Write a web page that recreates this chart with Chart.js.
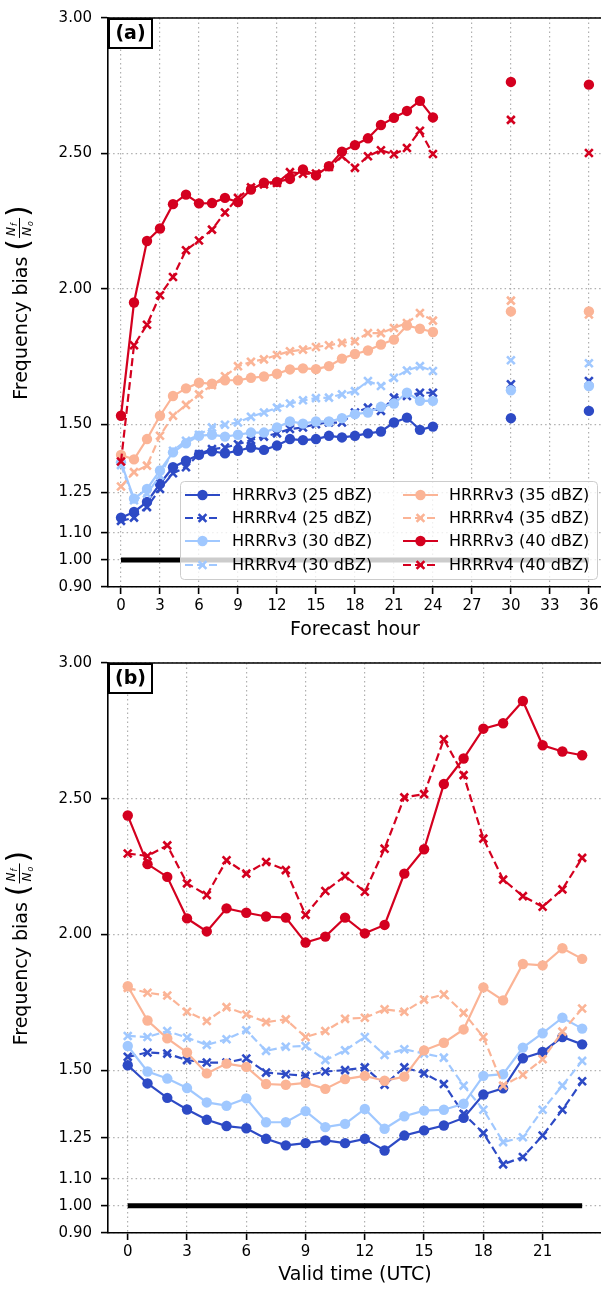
<!DOCTYPE html>
<html>
<head>
<meta charset="utf-8">
<script src="https://cdn.jsdelivr.net/npm/chart.js@4.4.1/dist/chart.umd.min.js"></script>
<style>
    html, body { margin: 0; padding: 0; overflow: hidden; background: #fff; }
    #wrap { position: relative; width: 601px; height: 1298px; overflow: hidden; }
    canvas { position: absolute; left: 0; }
    #chartA { top: 0; }
    #chartB { top: 645px; }
</style>
</head>
<body>
<div id="wrap">
    <canvas id="chartA" width="610" height="645"></canvas>
    <canvas id="chartB" width="610" height="653"></canvas>
</div>
<script>
const FONT = "'DejaVu Sans', sans-serif";

// shared y ticks (frequency bias)
const yTicks = [0.90, 1.00, 1.10, 1.25, 1.50, 2.00, 2.50, 3.00];
const refLevel = 1.0;

// (a) forecast hour
const forecastTicks = [0, 3, 6, 9, 12, 15, 18, 21, 24, 27, 30, 33, 36];
const forecastHours = [0, 1, 2, 3, 4, 5, 6, 7, 8, 9, 10, 11, 12, 13, 14, 15, 16, 17, 18, 19, 20, 21, 22, 23, 24, 30, 36];
const fcV3_25 = [1.156, 1.177, 1.214, 1.281, 1.342, 1.366, 1.388, 1.401, 1.393, 1.403, 1.415, 1.406, 1.422, 1.446, 1.442, 1.446, 1.458, 1.452, 1.458, 1.467, 1.474, 1.507, 1.525, 1.480, 1.492, 1.523, 1.550];
const fcV4_25 = [1.144, 1.156, 1.195, 1.262, 1.320, 1.342, 1.391, 1.409, 1.415, 1.427, 1.442, 1.455, 1.467, 1.483, 1.489, 1.501, 1.507, 1.507, 1.544, 1.562, 1.550, 1.599, 1.605, 1.617, 1.617, 1.648, 1.660];
const fcV3_30 = [1.360, 1.226, 1.262, 1.330, 1.397, 1.430, 1.458, 1.462, 1.455, 1.462, 1.470, 1.470, 1.489, 1.511, 1.503, 1.511, 1.511, 1.523, 1.538, 1.544, 1.565, 1.577, 1.617, 1.587, 1.587, 1.626, 1.642];
const fcV4_30 = [1.350, 1.220, 1.244, 1.311, 1.403, 1.440, 1.462, 1.489, 1.499, 1.507, 1.528, 1.544, 1.562, 1.577, 1.589, 1.597, 1.599, 1.611, 1.623, 1.660, 1.642, 1.672, 1.699, 1.715, 1.697, 1.737, 1.726];
const fcV3_35 = [1.387, 1.371, 1.446, 1.532, 1.605, 1.633, 1.654, 1.650, 1.663, 1.663, 1.672, 1.677, 1.687, 1.703, 1.707, 1.704, 1.715, 1.743, 1.760, 1.773, 1.795, 1.813, 1.865, 1.853, 1.841, 1.917, 1.917];
const fcV4_35 = [1.271, 1.324, 1.348, 1.458, 1.532, 1.572, 1.611, 1.645, 1.678, 1.715, 1.731, 1.740, 1.756, 1.770, 1.776, 1.786, 1.792, 1.801, 1.807, 1.837, 1.837, 1.856, 1.874, 1.911, 1.883, 1.957, 1.906];
const fcV3_40 = [1.532, 1.950, 2.177, 2.223, 2.313, 2.348, 2.316, 2.317, 2.336, 2.321, 2.367, 2.392, 2.395, 2.406, 2.441, 2.419, 2.453, 2.507, 2.531, 2.556, 2.605, 2.632, 2.657, 2.694, 2.633, 2.764, 2.754];
const fcV4_40 = [1.363, 1.792, 1.868, 1.977, 2.044, 2.143, 2.179, 2.219, 2.282, 2.336, 2.375, 2.386, 2.391, 2.431, 2.425, 2.426, 2.450, 2.490, 2.447, 2.490, 2.512, 2.497, 2.520, 2.584, 2.498, 2.624, 2.502];

// (b) valid time
const validTicks = [0, 3, 6, 9, 12, 15, 18, 21];
const validHours = [0, 1, 2, 3, 4, 5, 6, 7, 8, 9, 10, 11, 12, 13, 14, 15, 16, 17, 18, 19, 20, 21, 22, 23];
const vtV3_25 = [1.518, 1.451, 1.398, 1.355, 1.317, 1.294, 1.286, 1.247, 1.223, 1.231, 1.241, 1.231, 1.247, 1.204, 1.259, 1.278, 1.296, 1.324, 1.410, 1.433, 1.544, 1.567, 1.622, 1.595];
const vtV4_25 = [1.549, 1.565, 1.561, 1.537, 1.528, 1.528, 1.543, 1.491, 1.485, 1.479, 1.495, 1.500, 1.510, 1.446, 1.510, 1.488, 1.449, 1.339, 1.268, 1.153, 1.180, 1.259, 1.354, 1.459];
const vtV3_30 = [1.589, 1.495, 1.469, 1.434, 1.381, 1.369, 1.396, 1.308, 1.308, 1.349, 1.290, 1.302, 1.357, 1.284, 1.330, 1.351, 1.354, 1.376, 1.479, 1.485, 1.583, 1.636, 1.693, 1.653];
const vtV4_30 = [1.626, 1.622, 1.644, 1.620, 1.593, 1.614, 1.647, 1.571, 1.586, 1.589, 1.537, 1.573, 1.622, 1.556, 1.577, 1.561, 1.546, 1.443, 1.354, 1.235, 1.253, 1.354, 1.443, 1.534];
const vtV3_35 = [1.809, 1.683, 1.617, 1.565, 1.488, 1.524, 1.512, 1.449, 1.446, 1.453, 1.431, 1.467, 1.479, 1.461, 1.476, 1.573, 1.601, 1.650, 1.805, 1.757, 1.891, 1.886, 1.949, 1.910];
const vtV4_35 = [1.803, 1.785, 1.775, 1.715, 1.681, 1.732, 1.705, 1.677, 1.687, 1.622, 1.644, 1.689, 1.693, 1.724, 1.715, 1.760, 1.779, 1.711, 1.622, 1.443, 1.483, 1.540, 1.642, 1.727];
const vtV3_40 = [2.438, 2.259, 2.212, 2.059, 2.011, 2.096, 2.080, 2.066, 2.062, 1.970, 1.992, 2.062, 2.004, 2.035, 2.224, 2.314, 2.554, 2.648, 2.758, 2.778, 2.860, 2.697, 2.674, 2.660];
const vtV4_40 = [2.298, 2.289, 2.328, 2.188, 2.145, 2.273, 2.224, 2.267, 2.237, 2.072, 2.160, 2.215, 2.157, 2.316, 2.505, 2.517, 2.719, 2.587, 2.353, 2.202, 2.141, 2.102, 2.166, 2.282];

// series look, in plotting order
const seriesLabels = ['HRRRv3 (25 dBZ)', 'HRRRv4 (25 dBZ)', 'HRRRv3 (30 dBZ)', 'HRRRv4 (30 dBZ)',
                      'HRRRv3 (35 dBZ)', 'HRRRv4 (35 dBZ)', 'HRRRv3 (40 dBZ)', 'HRRRv4 (40 dBZ)'];
const seriesColors = ['#2d4ac5', '#2d4ac5', '#a0c8ff', '#a0c8ff', '#fbb496', '#fbb496', '#d4001f', '#d4001f'];
const seriesDashed = [false, true, false, true, false, true, false, true];

const DASH = [8, 4];

const makeDatasets = (hours, series, refEnd, lastLinked) => {
    const sets = series.map((vals, i) => {
        const color = seriesColors[i];
        const dashed = seriesDashed[i];
        return {
            label: seriesLabels[i],
            data: vals.map((v, k) => ({ x: hours[k], y: v })),
            borderColor: color,
            borderWidth: 2.2,
            borderDash: dashed ? DASH : [],
            pointStyle: dashed ? 'crossRot' : 'circle',
            pointRadius: dashed ? 5.5 : 5.2,
            pointBorderWidth: dashed ? 2.6 : 0,
            pointBorderColor: color,
            pointBackgroundColor: color,
            tension: 0,
            fill: false,
            order: 20 - i,
            segment: {
                // hours past the last linked one are plotted as loose markers
                borderColor: ctx => ctx.p0.parsed.x >= lastLinked ? 'rgba(0,0,0,0)' : undefined
            }
        };
    });
    sets.push({
        label: 'ref',
        data: [{ x: 0, y: refLevel }, { x: refEnd, y: refLevel }],
        borderColor: '#000',
        borderWidth: 5,
        pointRadius: 0,
        borderCapStyle: 'butt',
        order: 100
    });
    return sets;
};

const setTicks = values => scale => {
    scale.ticks = values.map(v => ({ value: v }));
};

// y title with the Nf/No fraction, drawn rotated
const drawYTitle = (ctx, x, cy) => {
    const big = 19;
    const main = 'Frequency bias ';
    ctx.save();
    ctx.translate(x, cy);
    ctx.rotate(-Math.PI / 2);
    ctx.fillStyle = '#000';
    ctx.strokeStyle = '#000';
    ctx.textBaseline = 'middle';
    ctx.font = `${big}px ${FONT}`;
    const wMain = ctx.measureText(main).width;
    ctx.font = `30px ${FONT}`;
    const wParen = ctx.measureText('(').width;
    const wFrac = 22;
    const total = wMain + wParen * 2 + wFrac;
    let px = -total / 2;
    ctx.font = `${big}px ${FONT}`;
    ctx.textAlign = 'left';
    ctx.fillText(main, px, 0);
    px += wMain;
    ctx.font = `30px ${FONT}`;
    ctx.fillText('(', px, -2);
    px += wParen;
    // fraction
    const fx = px + 1;
    ctx.lineWidth = 1;
    ctx.beginPath();
    ctx.moveTo(fx, -2.5);
    ctx.lineTo(fx + wFrac - 2, -2.5);
    ctx.stroke();
    ctx.font = `italic 12px ${FONT}`;
    ctx.fillText('N', fx + 2, -10);
    ctx.fillText('N', fx + 2, 6);
    ctx.font = `italic 8px ${FONT}`;
    ctx.fillText('f', fx + 12, -7);
    ctx.fillText('o', fx + 12, 9);
    px += wFrac;
    ctx.font = `30px ${FONT}`;
    ctx.fillText(')', px, -2);
    ctx.restore();
};

const drawPanelTag = (ctx, area, tag) => {
    ctx.save();
    ctx.fillStyle = '#fff';
    ctx.fillRect(area.left, area.top, 44, 30);
    ctx.lineWidth = 2;
    ctx.strokeStyle = '#000';
    ctx.strokeRect(area.left + 1, area.top + 1, 43, 29);
    ctx.fillStyle = '#000';
    ctx.font = `bold 19px ${FONT}`;
    ctx.textAlign = 'center';
    ctx.textBaseline = 'middle';
    ctx.fillText(tag, area.left + 22.5, area.top + 16);
    ctx.restore();
};

const drawHandle = (ctx, x0, x1, y, i) => {
    const color = seriesColors[i];
    ctx.save();
    ctx.strokeStyle = color;
    ctx.fillStyle = color;
    ctx.lineWidth = 2.2;
    ctx.setLineDash(seriesDashed[i] ? DASH : []);
    ctx.beginPath();
    ctx.moveTo(x0, y);
    ctx.lineTo(x1, y);
    ctx.stroke();
    ctx.setLineDash([]);
    const mx = (x0 + x1) / 2;
    if (seriesDashed[i]) {
        const d = 3.9;
        ctx.lineWidth = 2.6;
        ctx.beginPath();
        ctx.moveTo(mx - d, y - d); ctx.lineTo(mx + d, y + d);
        ctx.moveTo(mx - d, y + d); ctx.lineTo(mx + d, y - d);
        ctx.stroke();
    } else {
        ctx.beginPath();
        ctx.arc(mx, y, 5.2, 0, Math.PI * 2);
        ctx.fill();
    }
    ctx.restore();
};

const legendPlugin = {
    id: 'boxLegend',
    afterDatasetsDraw(chart) {
        const ctx = chart.ctx;
        const box = { x: 180, y: 481, w: 417, h: 98 };
        ctx.save();
        ctx.fillStyle = 'rgba(255,255,255,0.8)';
        ctx.strokeStyle = '#cccccc';
        ctx.lineWidth = 1;
        ctx.beginPath();
        ctx.roundRect(box.x + 0.5, box.y + 0.5, box.w, box.h, 4);
        ctx.fill();
        ctx.stroke();
        ctx.restore();

        const rows = [495, 518, 541, 565];
        const cols = [{ h0: 185, h1: 220, tx: 232 }, { h0: 403, h1: 438, tx: 449 }];
        ctx.save();
        ctx.font = `16px ${FONT}`;
        ctx.fillStyle = '#000';
        ctx.textBaseline = 'middle';
        seriesLabels.forEach((lab, i) => {
            const col = cols[Math.floor(i / 4)];
            const y = rows[i % 4];
            drawHandle(ctx, col.h0, col.h1, y, i);
            ctx.fillText(lab, col.tx, y + 1);
        });
        ctx.restore();
    }
};

const framePlugin = {
    id: 'frame',
    afterDraw(chart, args, opts) {
        const ctx = chart.ctx;
        const a = chart.chartArea;
        ctx.save();
        ctx.strokeStyle = '#000';
        ctx.lineWidth = 1.6;
        ctx.beginPath();
        ctx.moveTo(a.left, a.top);
        ctx.lineTo(chart.width, a.top);
        ctx.stroke();
        ctx.fillStyle = '#000';
        ctx.font = `19px ${FONT}`;
        ctx.textAlign = 'center';
        ctx.textBaseline = 'middle';
        ctx.fillText(opts.xTitle, (a.left + a.right) / 2, opts.xTitleY);
        ctx.restore();
        drawYTitle(ctx, 22, (a.top + a.bottom) / 2);
        drawPanelTag(ctx, a, opts.tag);
    }
};

const buildChart = (canvas, cfg) => new Chart(canvas, {
    type: 'line',
    data: { datasets: cfg.datasets },
    options: {
        responsive: false,
        animation: false,
        events: [],
        layout: { padding: { top: 15, right: cfg.padRight, left: 0, bottom: 0 } },
        plugins: {
            legend: { display: false },
            tooltip: { enabled: false },
            frame: { xTitle: cfg.xTitle, xTitleY: cfg.xTitleY, tag: cfg.tag }
        },
        scales: {
            x: {
                type: 'linear',
                min: cfg.xMin,
                max: cfg.xMax,
                afterBuildTicks: setTicks(cfg.xTicks),
                afterFit: s => { s.height = cfg.xHeight; },
                grid: { color: '#b0b0b0', lineWidth: 1.2, tickLength: 7, tickColor: '#000', tickWidth: 1.6 },
                border: { color: '#000', width: 1.6, dash: [1.5, 3] },
                ticks: {
                    color: '#000', font: { family: FONT, size: 15 }, padding: 3,
                    maxRotation: 0, autoSkip: false, callback: v => String(v)
                }
            },
            y: {
                type: 'linear',
                min: 0.9,
                max: 3.0,
                afterBuildTicks: setTicks(yTicks),
                afterFit: s => { s.width = 108; },
                grid: { color: '#b0b0b0', lineWidth: 1.2, tickLength: 7, tickColor: '#000', tickWidth: 1.6 },
                border: { color: '#000', width: 1.6, dash: [1.5, 3] },
                ticks: { color: '#000', font: { family: FONT, size: 15 }, padding: 9, callback: v => v.toFixed(2) }
            }
        }
    },
    plugins: cfg.extraPlugins.concat([framePlugin])
});

buildChart(document.getElementById('chartA'), {
    datasets: makeDatasets(forecastHours,
        [fcV3_25, fcV4_25, fcV3_30, fcV4_30, fcV3_35, fcV4_35, fcV3_40, fcV4_40], 36, 24),
    xMin: -1, xMax: 37, xTicks: forecastTicks,
    xHeight: 58, padRight: 4.2,
    xTitle: 'Forecast hour', xTitleY: 630, tag: '(a)',
    extraPlugins: [legendPlugin]
});

buildChart(document.getElementById('chartB'), {
    datasets: makeDatasets(validHours,
        [vtV3_25, vtV4_25, vtV3_30, vtV4_30, vtV3_35, vtV4_35, vtV3_40, vtV4_40], 23, 99),
    xMin: -1, xMax: 24, xTicks: validTicks,
    xHeight: 65, padRight: 6.3,
    xTitle: 'Valid time (UTC)', xTitleY: 630, tag: '(b)',
    extraPlugins: []
});
</script>
</body>
</html>
